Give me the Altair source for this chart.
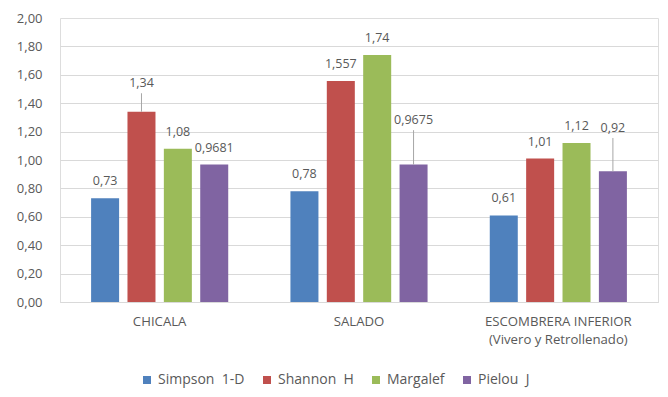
import altair as alt
import pandas as pd

sites = ["CHICALA", "SALADO", "ESCOMBRERA INFERIOR|(Vivero y Retrollenado)"]
indices = ["Simpson\u00a0\u00a01-D", "Shannon\u00a0\u00a0H", "Margalef", "Pielou\u00a0\u00a0J"]
simpson = [0.73, 0.78, 0.61]
shannon = [1.34, 1.557, 1.01]
margalef = [1.08, 1.74, 1.12]
pielou = [0.9681, 0.9675, 0.92]
simpson_lbl = ["0,73", "0,78", "0,61"]
shannon_lbl = ["1,34", "1,557", "1,01"]
margalef_lbl = ["1,08", "1,74", "1,12"]
pielou_lbl = ["0,9681", "0,9675", "0,92"]
# data-label heights for labels drawn with a leader line (None = just above bar)
shannon_callout = [1.54, None, None]
margalef_callout = [None, None, None]
simpson_callout = [None, None, None]
pielou_callout = [None, 1.28, 1.225]
colors = ["#4F81BD", "#C0504D", "#9BBB59", "#8064A2"]
y_ticks = [0, 0.2, 0.4, 0.6, 0.8, 1.0, 1.2, 1.4, 1.6, 1.8, 2.0]

rows = []
series = [
    (indices[0], simpson, simpson_lbl, simpson_callout),
    (indices[1], shannon, shannon_lbl, shannon_callout),
    (indices[2], margalef, margalef_lbl, margalef_callout),
    (indices[3], pielou, pielou_lbl, pielou_callout),
]
for name, vals, lbls, calls in series:
    for s, v, l, c in zip(sites, vals, lbls, calls):
        rows.append({"site": s, "index": name, "value": v, "label": l, "callout": c})
df = pd.DataFrame(rows)

TXT = "#595959"
FONT = "Open Sans"

x_enc = alt.X("site:N", sort=sites, title=None,
              scale=alt.Scale(paddingInner=0, paddingOuter=0),
              axis=alt.Axis(labelAngle=0, labelExpr="split(datum.label, '|')",
                            labelLineHeight=18, labelPadding=13, ticks=False,
                            domainColor="#d9d9d9", labelColor=TXT, labelFontSize=13.2,
                            labelFont=FONT))
xo_enc = alt.XOffset("index:N", sort=indices,
                     scale=alt.Scale(paddingInner=0.23, paddingOuter=0.855))

base = alt.Chart(df)

bars = base.mark_bar().encode(
    x=x_enc,
    xOffset=xo_enc,
    y=alt.Y("value:Q", title=None,
            scale=alt.Scale(domain=[0, 2], nice=False),
            axis=alt.Axis(values=y_ticks, tickCount=12, ticks=False, domain=False,
                          labelOverlap=False,
                          labelExpr="replace(format(datum.value, '.2f'), '.', ',')",
                          gridOpacity={"condition": {"test": "datum.value >= 2", "value": 0}, "value": 1},
                          labelPadding=18, gridColor="#d9d9d9", labelColor=TXT,
                          labelFontSize=13, labelFont=FONT)),
    color=alt.Color("index:N", sort=indices,
                    scale=alt.Scale(domain=indices, range=colors),
                    legend=alt.Legend(title=None, orient="none", legendX=80, legendY=355,
                                      direction="horizontal", columns=4,
                                      symbolType="square", symbolSize=64,
                                      symbolStrokeWidth=0, labelOffset=4,
                                      columnPadding=15, labelColor=TXT,
                                      labelFontSize=14, labelFont=FONT)),
)

plain_labels = base.transform_filter("datum.callout == null").mark_text(
    dy=-17, baseline="middle", color=TXT, fontSize=12.5, font=FONT
).encode(x=x_enc, xOffset=xo_enc, y="value:Q", text="label:N")

callout_labels = base.transform_filter("datum.callout != null").mark_text(
    baseline="middle", color=TXT, fontSize=12.5, font=FONT
).encode(x=x_enc, xOffset=xo_enc, y="callout:Q", text="label:N")

leaders = base.transform_filter("datum.callout != null").transform_calculate(
    line_end="datum.callout - 0.07"
).mark_rule(color="#a6a6a6", strokeWidth=1).encode(
    x=x_enc, xOffset=xo_enc, y="value:Q", y2="line_end:Q"
)

chart = alt.layer(bars, leaders, plain_labels, callout_labels).properties(
    width=598, height=284,
    autosize=alt.AutoSizeParams(type="none"),
    padding={"left": 52, "top": 10, "right": 2, "bottom": 87},
).configure_view(stroke=None).configure(background="white")

chart.save("out.html", embed_options={"renderer": "svg", "actions": False})
